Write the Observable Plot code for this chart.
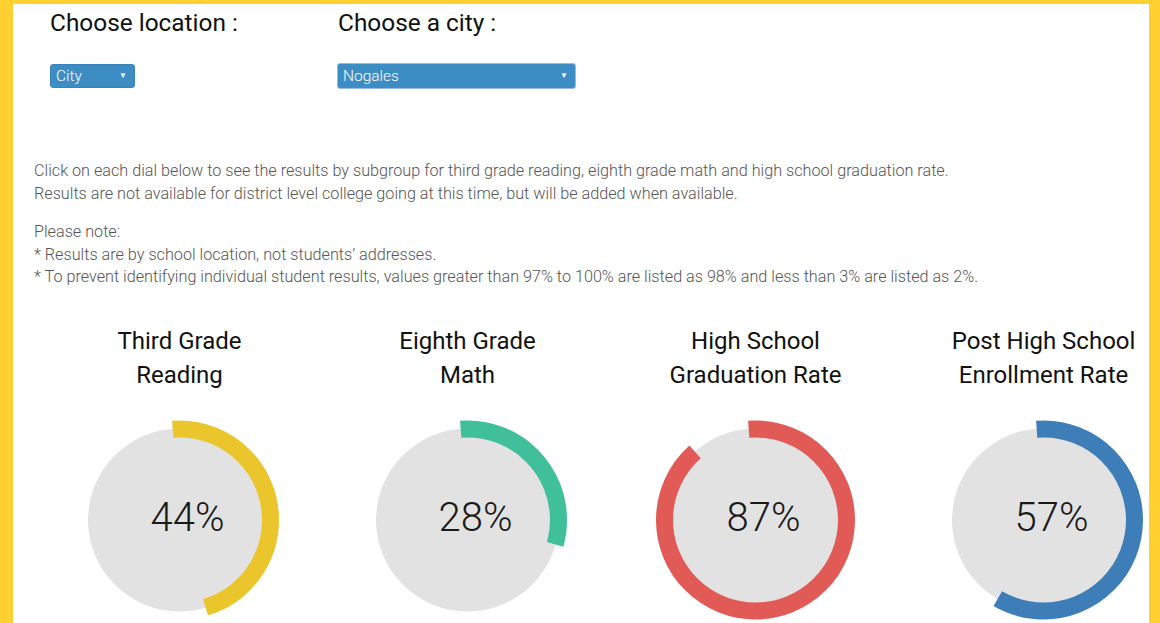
<!DOCTYPE html>
<html>
<head>
<meta charset="utf-8">
<script src="https://cdn.jsdelivr.net/npm/d3@7"></script>
<script src="https://cdn.jsdelivr.net/npm/@observablehq/plot@0.6"></script>
<style>
  html, body { margin: 0; padding: 0; }
  body { width: 1160px; height: 623px; background: #FFD02F; overflow: hidden; font-family: Roboto, "Open Sans", sans-serif; position: relative; }
  #panel { position: absolute; left: 13px; top: 4px; width: 1136px; height: 619px; background: #fff; }
  .lbl { position: absolute; font-size: 24.4px; line-height: 28px; color: #111; white-space: nowrap; }
  .sel { position: absolute; background: #3D8DC5; color: #fff; font-size: 15.5px; font-weight: 300; border-radius: 3px; box-sizing: border-box; padding-left: 5px; white-space: nowrap; }
  .sel .arr { position: absolute; right: 7px; top: 0; font-size: 8px; }
  #notes { position: absolute; left: 21px; top: 156px; width: 1110px; font-size: 16.2px; font-weight: 300; line-height: 22.6px; color: #555; }
  #notes p { margin: 0 0 16px 0; }
  #chart { position: absolute; left: 0; top: 296px; }
</style>
</head>
<body>
<div id="panel">
  <div class="lbl" id="lbl1" style="left:37px; top:5px;"></div>
  <div class="lbl" id="lbl2" style="left:325px; top:5px;"></div>
  <div class="sel" id="sel1" style="left:37px; top:60px; width:85px; height:24px; line-height:22px; border:1px solid #3A83B8;"></div>
  <div class="sel" id="sel2" style="left:324px; top:59px; width:239px; height:26px; line-height:24px; border:1px solid #9DB8E6;"></div>
  <div id="notes"></div>
  <div id="chart"></div>
</div>
<script>
// ---- data ----
const labels = ["Choose location :", "Choose a city :"];
const locationOptions = ["City"];
const cityOptions = ["Nogales"];
const introLines = [
  "Click on each dial below to see the results by subgroup for third grade reading, eighth grade math and high school graduation rate.",
  "Results are not available for district level college going at this time, but will be added when available."
];
const noteLines = [
  "Please note:",
  "* Results are by school location, not students\u2019 addresses.",
  "* To prevent identifying individual student results, values greater than 97% to 100% are listed as 98% and less than 3% are listed as 2%."
];
const dialTitles = ["Third Grade\nReading", "Eighth Grade\nMath", "High School\nGraduation Rate", "Post High School\nEnrollment Rate"];
const dialValues = [44, 28, 87, 57];

// ---- styles ----
const dialColors = ["#EAC62C", "#40C09A", "#E15A56", "#3D7EB8"];
const trackColor = "#E2E2E2";

// ---- page text ----
document.getElementById("lbl1").textContent = labels[0];
document.getElementById("lbl2").textContent = labels[1];
document.getElementById("sel1").innerHTML = locationOptions[0] + '<span class="arr">\u25BC</span>';
document.getElementById("sel2").innerHTML = cityOptions[0] + '<span class="arr">\u25BC</span>';
document.getElementById("notes").innerHTML =
  "<p>" + introLines.join("<br>") + "</p><p>" + noteLines.join("<br>") + "</p>";

// ---- chart ----
const rows = dialTitles.map((t, i) => ({title: t, value: dialValues[i], color: dialColors[i]}));
const R = 91;          // ring radius (px)
const C = 2 * Math.PI * R;
const pad = C * 4.8 / 360;

const arcMarks = rows.map(d => {
  const a = d.value / 100 * C + 2 * pad;
  return Plot.dot([d], {
    x: "title", r: R, fill: "none", stroke: d.color, strokeWidth: 17,
    strokeDasharray: `${a} ${C - a}`,
    strokeDashoffset: pad - 0.75 * C
  });
});

const chart = Plot.plot({
  width: 1136,
  height: 323,
  marginTop: 116,
  marginBottom: 0,
  marginLeft: 0,
  marginRight: 0,
  x: {type: "point", domain: dialTitles, range: [165.5, 1029.5], padding: 0, axis: null},
  style: {fontFamily: "Roboto, sans-serif", background: "transparent", overflow: "visible"},
  marks: [
    Plot.dot(rows, {x: "title", r: 91.5, fill: trackColor, stroke: "none"}),
    ...arcMarks,
    Plot.text(rows, {x: "title", text: d => d.value + "%", fontSize: 40, fontWeight: 300, fill: "#1a1a1a", dx: 8, dy: -1.5}),
    Plot.text(rows, {x: "title", text: "title", fontSize: 24, fill: "#111", lineAnchor: "top", lineHeight: 1.42, dy: -195.5})
  ]
});
document.getElementById("chart").appendChild(chart);
</script>
</body>
</html>
